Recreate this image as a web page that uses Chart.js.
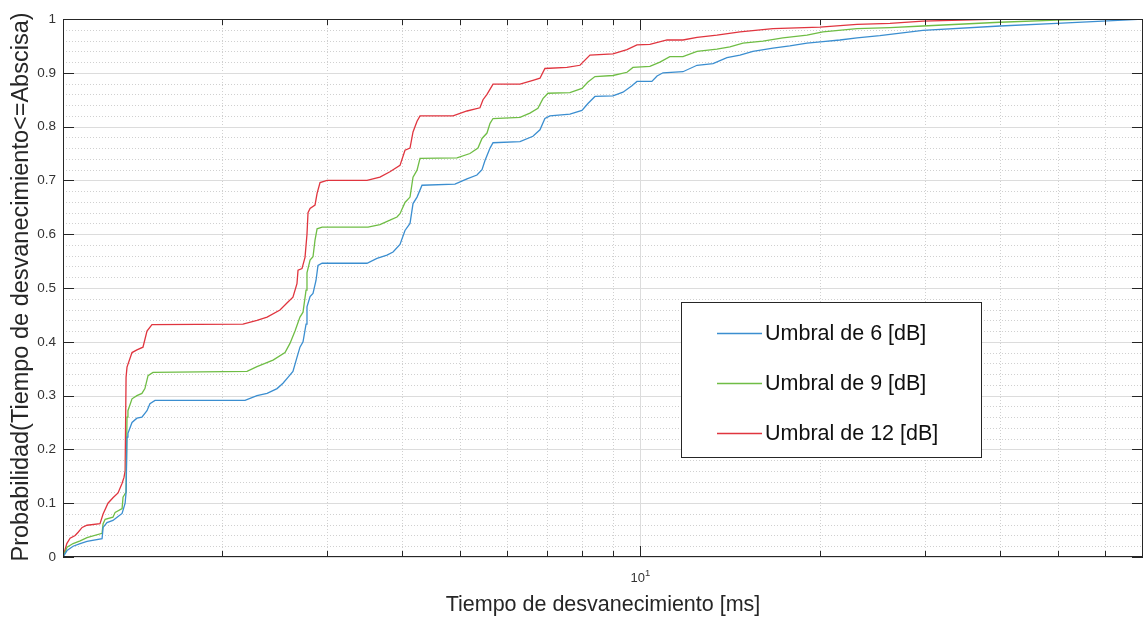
<!DOCTYPE html>
<html>
<head>
<meta charset="utf-8">
<title>Tiempo de desvanecimiento</title>
<script src="https://cdn.jsdelivr.net/npm/chart.js@4.4.1/dist/chart.umd.min.js"></script>
<style>
  html, body { margin: 0; padding: 0; background: #fff; }
  canvas { display: block; }
</style>
</head>
<body>
<canvas id="cdf" width="1144" height="620"></canvas>
<script>
// Empirical CDF of fade duration [ms] for three thresholds
const tiempo6 = [1.084, 1.101, 1.127, 1.158, 1.189, 1.26, 1.265, 1.284, 1.314, 1.335, 1.361, 1.377, 1.382, 1.387, 1.392,
  1.414, 1.441, 1.469, 1.498, 1.515, 1.545, 2.185, 2.288, 2.379, 2.472, 2.529, 2.578, 2.628, 2.669, 2.70, 2.732, 2.764,
  2.774, 2.807, 2.839, 2.872, 2.894, 2.94, 3.495, 3.632, 3.775, 3.864, 3.969, 4.046, 4.125, 4.173, 4.238, 4.32, 4.905,
  5.137, 5.338, 5.443, 5.506, 5.614, 5.679, 6.301, 6.622, 6.804, 6.935, 7.071, 7.636, 7.998, 8.185, 8.409, 9.012, 9.367,
  9.696, 9.885, 10.47, 10.68, 10.93, 11.80, 12.46, 13.25, 13.98, 14.70, 15.45, 16.69, 17.81, 19.03, 20.23, 21.60, 23.07,
  25.19, 29.73, 40.0, 49.8, 61.8, 69.4];
const prob6 = [0, 0.012, 0.02, 0.025, 0.029, 0.034, 0.055, 0.064, 0.068, 0.074, 0.081, 0.1, 0.12, 0.223, 0.23,
  0.25, 0.258, 0.26, 0.272, 0.285, 0.291, 0.291, 0.3, 0.304, 0.313, 0.323, 0.334, 0.345, 0.371, 0.39, 0.4, 0.433,
  0.465, 0.484, 0.49, 0.514, 0.542, 0.546, 0.546, 0.555, 0.561, 0.567, 0.581, 0.607, 0.62, 0.657, 0.669, 0.691, 0.693,
  0.703, 0.71, 0.72, 0.737, 0.76, 0.77, 0.772, 0.782, 0.794, 0.815, 0.82, 0.823, 0.83, 0.843, 0.856, 0.857, 0.864,
  0.876, 0.884, 0.884, 0.894, 0.9, 0.902, 0.914, 0.917, 0.928, 0.933, 0.94, 0.946, 0.95, 0.955, 0.958, 0.961, 0.965,
  0.969, 0.979, 0.987, 0.992, 0.997, 1];

const tiempo9 = [1.084, 1.101, 1.127, 1.158, 1.189, 1.26, 1.265, 1.275, 1.314, 1.325, 1.361, 1.366, 1.377, 1.382, 1.387,
  1.392, 1.414, 1.441, 1.469, 1.486, 1.504, 1.533, 2.202, 2.288, 2.434, 2.549, 2.598, 2.649, 2.70, 2.732, 2.764, 2.774,
  2.807, 2.839, 2.861, 2.884, 2.94, 3.509, 3.674, 3.818, 3.923, 3.969, 4.046, 4.125, 4.173, 4.238, 4.287, 4.943, 5.196,
  5.359, 5.443, 5.548, 5.614, 5.679, 6.301, 6.546, 6.751, 6.883, 7.017, 7.636, 7.998, 8.185, 8.409, 9.012, 9.513, 9.734,
  10.39, 10.80, 11.22, 11.80, 12.46, 13.45, 14.14, 14.87, 16.06, 17.34, 19.03, 20.23, 23.07, 26.19, 29.73, 40.0, 49.8,
  58.1, 69.4];
const prob9 = [0, 0.018, 0.025, 0.03, 0.036, 0.044, 0.062, 0.07, 0.074, 0.083, 0.09, 0.111, 0.118, 0.12, 0.26,
  0.272, 0.294, 0.3, 0.304, 0.313, 0.337, 0.343, 0.345, 0.354, 0.366, 0.38, 0.397, 0.42, 0.446, 0.455, 0.496, 0.528,
  0.552, 0.558, 0.589, 0.61, 0.613, 0.613, 0.618, 0.626, 0.632, 0.638, 0.659, 0.669, 0.706, 0.719, 0.741, 0.742, 0.75,
  0.76, 0.778, 0.788, 0.806, 0.815, 0.817, 0.825, 0.834, 0.852, 0.862, 0.863, 0.871, 0.883, 0.893, 0.895, 0.901, 0.91,
  0.912, 0.92, 0.93, 0.93, 0.94, 0.944, 0.948, 0.955, 0.959, 0.965, 0.97, 0.976, 0.982, 0.984, 0.987, 0.994, 0.998,
  1, 1];

const tiempo12 = [1.084, 1.10, 1.114, 1.136, 1.149, 1.167, 1.189, 1.25, 1.265, 1.289, 1.314, 1.34, 1.361, 1.371, 1.377,
  1.382, 1.387, 1.414, 1.441, 1.475, 1.498, 1.527, 2.168, 2.288, 2.379, 2.5, 2.578, 2.628, 2.669, 2.68, 2.721, 2.753,
  2.774, 2.785, 2.807, 2.861, 2.884, 2.917, 2.997, 3.495, 3.674, 3.818, 3.969, 4.046, 4.125, 4.173, 4.238, 4.287, 4.868,
  5.137, 5.4, 5.464, 5.548, 5.679, 6.301, 6.622, 6.804, 6.935, 7.548, 7.937, 8.249, 9.012, 9.513, 9.885, 10.39, 11.10,
  11.80, 12.46, 13.45, 14.70, 16.69, 20.0, 23.07, 26.19, 29.73, 40.0, 69.4];
const prob12 = [0, 0.025, 0.035, 0.04, 0.046, 0.055, 0.059, 0.062, 0.08, 0.1, 0.11, 0.119, 0.137, 0.148, 0.16,
  0.334, 0.353, 0.38, 0.385, 0.39, 0.42, 0.432, 0.433, 0.44, 0.446, 0.459, 0.474, 0.483, 0.508, 0.533, 0.536, 0.557,
  0.6, 0.64, 0.648, 0.654, 0.676, 0.696, 0.70, 0.70, 0.706, 0.716, 0.728, 0.756, 0.76, 0.79, 0.81, 0.82, 0.82,
  0.829, 0.835, 0.85, 0.86, 0.879, 0.879, 0.886, 0.89, 0.908, 0.91, 0.914, 0.933, 0.935, 0.943, 0.952, 0.953, 0.961,
  0.961, 0.966, 0.97, 0.976, 0.982, 0.985, 0.99, 0.992, 0.996, 1, 1];

const seriesLabels = ['Umbral de 6 [dB]', 'Umbral de 9 [dB]', 'Umbral de 12 [dB]'];
const seriesColors = ['#3b8ed0', '#6fbd45', '#e0353f'];

const yTicks = [0, 0.1, 0.2, 0.3, 0.4, 0.5, 0.6, 0.7, 0.8, 0.9, 1];
const yTickLabels = ['0', '0.1', '0.2', '0.3', '0.4', '0.5', '0.6', '0.7', '0.8', '0.9', '1'];
const yMinorTicks = [0.02, 0.04, 0.06, 0.08, 0.12, 0.14, 0.16, 0.18, 0.22, 0.24, 0.26, 0.28, 0.32, 0.34, 0.36, 0.38,
  0.42, 0.44, 0.46, 0.48, 0.52, 0.54, 0.56, 0.58, 0.62, 0.64, 0.66, 0.68, 0.72, 0.74, 0.76, 0.78, 0.82, 0.84, 0.86,
  0.88, 0.92, 0.94, 0.96, 0.98];
const xMajorTicks = [10];
const xMinorTicks = [2, 3, 4, 5, 6, 7, 8, 9, 20, 30, 40, 50, 60];

const xTitle = 'Tiempo de desvanecimiento [ms]';
const yTitle = 'Probabilidad(Tiempo de desvanecimiento<=Abscisa)';

const FONT = '"Liberation Sans", Arial, Helvetica, sans-serif';
const AXIS = '#262626';

function toPoints(xs, ys) {
  return xs.map((v, i) => ({ x: v, y: ys[i] }));
}

function seg(ctx, x1, y1, x2, y2) {
  ctx.beginPath();
  ctx.moveTo(x1, y1);
  ctx.lineTo(x2, y2);
  ctx.stroke();
}

// grid, box, ticks, labels and legend drawn in the usual MATLAB look
const matlabAxes = {
  id: 'matlabAxes',
  beforeDatasetsDraw(chart) {
    const { ctx, chartArea: a, scales: { x, y } } = chart;
    ctx.save();
    ctx.lineWidth = 1;

    ctx.strokeStyle = '#d0d0d0';
    ctx.setLineDash([1, 2]);
    yMinorTicks.forEach(v => {
      const py = Math.round(y.getPixelForValue(v)) + 0.5;
      seg(ctx, a.left, py, a.right, py);
    });
    xMinorTicks.forEach(v => {
      const px = Math.round(x.getPixelForValue(v)) + 0.5;
      seg(ctx, px, a.top, px, a.bottom);
    });

    ctx.setLineDash([]);
    ctx.strokeStyle = '#dcdcdc';
    yTicks.forEach(v => {
      const py = Math.round(y.getPixelForValue(v)) + 0.5;
      seg(ctx, a.left, py, a.right, py);
    });
    xMajorTicks.forEach(v => {
      const px = Math.round(x.getPixelForValue(v)) + 0.5;
      seg(ctx, px, a.top, px, a.bottom);
    });
    ctx.restore();
  },
  afterDatasetsDraw(chart) {
    const { ctx, chartArea: a, scales: { x, y } } = chart;
    ctx.save();
    ctx.lineWidth = 1;
    ctx.strokeStyle = AXIS;

    // box
    ctx.strokeRect(a.left + 0.5, a.top + 0.5, a.right - a.left - 1, a.bottom - a.top - 1);

    // inward ticks
    yTicks.forEach(v => {
      const py = Math.round(y.getPixelForValue(v)) + 0.5;
      seg(ctx, a.left, py, a.left + 11, py);
      seg(ctx, a.right, py, a.right - 11, py);
    });
    xMinorTicks.forEach(v => {
      const px = Math.round(x.getPixelForValue(v)) + 0.5;
      seg(ctx, px, a.bottom, px, a.bottom - 6);
      seg(ctx, px, a.top, px, a.top + 6);
    });
    xMajorTicks.forEach(v => {
      const px = Math.round(x.getPixelForValue(v)) + 0.5;
      seg(ctx, px, a.bottom, px, a.bottom - 11);
      seg(ctx, px, a.top, px, a.top + 11);
    });

    // tick labels
    ctx.fillStyle = '#333333';
    ctx.font = '13.5px ' + FONT;
    ctx.textAlign = 'right';
    ctx.textBaseline = 'middle';
    yTicks.forEach((v, i) => {
      ctx.fillText(yTickLabels[i], a.left - 7, y.getPixelForValue(v));
    });
    xMajorTicks.forEach(v => {
      const px = x.getPixelForValue(v);
      const exp = String(Math.round(Math.log10(v)));
      ctx.font = '13px ' + FONT;
      ctx.textAlign = 'right';
      ctx.fillText('10', px + 5, a.bottom + 21);
      ctx.font = '9.5px ' + FONT;
      ctx.textAlign = 'left';
      ctx.fillText(exp, px + 5, a.bottom + 16);
    });

    // axis titles
    ctx.fillStyle = '#262626';
    ctx.textAlign = 'center';
    ctx.font = '21.5px ' + FONT;
    ctx.fillText(xTitle, (a.left + a.right) / 2, 605);
    ctx.save();
    ctx.translate(22, (a.top + a.bottom) / 2 - 1);
    ctx.rotate(-Math.PI / 2);
    ctx.font = '23.5px ' + FONT;
    ctx.fillText(yTitle, 0, 0);
    ctx.restore();

    // legend
    const lx = 681, ly = 302, lw = 300, lh = 155;
    ctx.fillStyle = '#ffffff';
    ctx.fillRect(lx, ly, lw, lh);
    ctx.strokeStyle = AXIS;
    ctx.strokeRect(lx + 0.5, ly + 0.5, lw, lh);
    ctx.font = '21.5px ' + FONT;
    ctx.textAlign = 'left';
    chart.data.datasets.forEach((ds, i) => {
      const ey = ly + 31 + i * 50;
      ctx.strokeStyle = ds.borderColor;
      ctx.lineWidth = 1.3;
      seg(ctx, lx + 36, ey + 0.5, lx + 81, ey + 0.5);
      ctx.fillStyle = '#111111';
      ctx.fillText(ds.label, lx + 84, ey + 1);
    });
    ctx.restore();
  }
};

new Chart(document.getElementById('cdf'), {
  type: 'line',
  data: {
    datasets: [
      { label: seriesLabels[0], data: toPoints(tiempo6, prob6), borderColor: seriesColors[0] },
      { label: seriesLabels[1], data: toPoints(tiempo9, prob9), borderColor: seriesColors[1] },
      { label: seriesLabels[2], data: toPoints(tiempo12, prob12), borderColor: seriesColors[2] }
    ]
  },
  options: {
    responsive: false,
    animation: false,
    devicePixelRatio: 1,
    layout: { padding: { left: 63, top: 19, right: 1, bottom: 63 } },
    elements: {
      point: { radius: 0 },
      line: { borderWidth: 1.3, tension: 0, fill: false }
    },
    scales: {
      x: { type: 'logarithmic', min: 1.084, max: 69.4, display: false },
      y: { type: 'linear', min: 0, max: 1, display: false }
    },
    plugins: {
      legend: { display: false },
      tooltip: { enabled: false }
    }
  },
  plugins: [matlabAxes]
});
</script>
</body>
</html>
